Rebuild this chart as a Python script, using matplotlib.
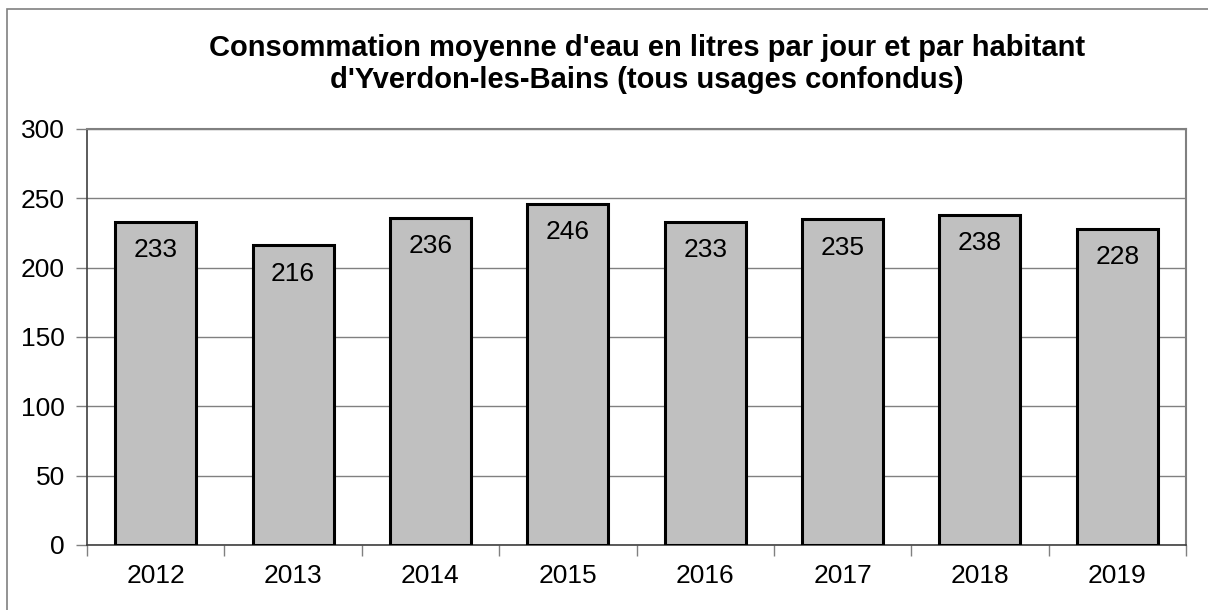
import matplotlib

matplotlib.use("Agg")

import matplotlib.pyplot as plt
import numpy as np
from matplotlib.patches import Rectangle

years = ["2012", "2013", "2014", "2015", "2016", "2017", "2018", "2019"]
litres = [233, 216, 236, 246, 233, 235, 238, 228]
y_ticks = [0, 50, 100, 150, 200, 250, 300]
title = ("Consommation moyenne d'eau en litres par jour et par habitant\n"
         "d'Yverdon-les-Bains (tous usages confondus)")

plt.rcParams["font.family"] = ["Liberation Sans", "DejaVu Sans"]

W, H = 1208, 610
fig = plt.figure(figsize=(W / 100, H / 100), dpi=100)
ax = fig.add_axes([87 / W, 1 - 545 / H, (1186 - 87) / W, (545 - 129) / H])

# outer chart frame (only top/left visible in the crop)
fig.patches.append(Rectangle((7 / W, -0.1), 1.2, 1 - 9 / H + 0.1,
                             transform=fig.transFigure, fill=False,
                             edgecolor="#808080", linewidth=1.2))

x = np.arange(len(years))
bars = ax.bar(x, litres, width=0.59, color="#c0c0c0", edgecolor="black",
              linewidth=2.2, zorder=3)
for xi, v in zip(x, litres):
    ax.annotate(str(v), (xi, v), xytext=(0, -20.5), textcoords="offset points",
                ha="center", va="center", fontsize=19, zorder=4)

ax.set_xlim(-0.5, len(years) - 0.5)
ax.set_ylim(0, 300)
ax.set_yticks(y_ticks)
ax.set_yticklabels([str(t) for t in y_ticks], fontsize=19)
ax.set_xticks(x)
ax.set_xticklabels(years, fontsize=19)
ax.tick_params(axis="x", length=0, pad=14)
ax.set_xticks(np.arange(len(years) + 1) - 0.5, minor=True)
ax.tick_params(axis="x", which="minor", length=8, width=1, color="#808080",
               direction="out")
ax.tick_params(axis="y", length=8, width=1, color="#808080", pad=8)
ax.grid(axis="y", color="#808080", linewidth=1, zorder=0)

for side in ("top", "right"):
    ax.spines[side].set_color("#808080")
    ax.spines[side].set_linewidth(1.5)
for side in ("left", "bottom"):
    ax.spines[side].set_color("#404040")
    ax.spines[side].set_linewidth(1.2)

fig.text(647 / W, 1 - 64 / H, title, ha="center", va="center", fontsize=21,
         fontweight="bold", linespacing=1.2)

fig.savefig("out.png", dpi=100)
